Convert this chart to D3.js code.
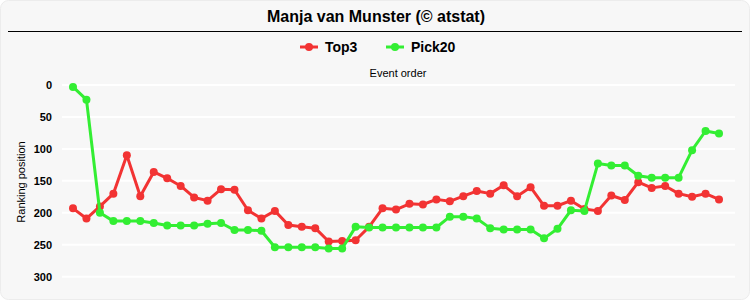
<!DOCTYPE html>
<html>
<head>
<meta charset="utf-8">
<script src="https://cdn.jsdelivr.net/npm/d3@7"></script>
<style>
  body { margin: 0; background: #fff; }
  svg { display: block; font-family: "Liberation Sans", Arial, sans-serif; }
</style>
</head>
<body>
<div id="chart"></div>
<script>
// Event order (x) and ranking positions for the two series
const events = d3.range(1, 50);
const top3 = [193, 209, 190, 170, 110, 174, 136, 146, 158, 176, 181, 163, 164, 196, 209, 197, 219, 222, 224,
    245, 244, 243, 222, 193, 195, 186, 187, 179, 182, 174, 166, 170, 157, 174, 160, 189, 189, 181, 194, 197,
    173, 180, 152, 161, 158, 170, 175, 170, 179];
const pick20 = [3, 23, 200, 213, 213, 213, 216, 220, 220, 220, 217, 216, 227, 227, 228, 254, 254, 254, 254,
    256, 256, 222, 223, 223, 223, 223, 223, 223, 206, 206, 209, 224, 226, 226, 226, 240, 225, 196, 197, 123,
    126, 126, 142, 145, 145, 145, 102, 72, 76];
const yTicks = [0, 50, 100, 150, 200, 250, 300];

const seriesList = [
    { name: "Top3", values: top3, color: "#f23333" },
    { name: "Pick20", values: pick20, color: "#33ee33" }
];

const width = 750, height = 300;

const svg = d3.select("#chart").append("svg")
    .attr("width", width)
    .attr("height", height);

// panel background
svg.append("rect")
    .attr("x", 0.5).attr("y", 0.5)
    .attr("width", width - 1).attr("height", height - 1)
    .attr("rx", 8)
    .style("fill", "#f7f7f7")
    .style("stroke", "#ececec");

// title + rule
svg.append("text")
    .attr("x", 376).attr("y", 22)
    .attr("text-anchor", "middle")
    .style("font-size", "16px")
    .style("font-weight", "bold")
    .text("Manja van Munster (© atstat)");

svg.append("line")
    .attr("x1", 8).attr("x2", 742)
    .attr("y1", 31.5).attr("y2", 31.5)
    .style("stroke", "#000")
    .style("stroke-width", 1.2);

const x = d3.scaleLinear().domain([1, 49]).range([73, 719]);
const y = d3.scaleLinear().domain([0, 300]).range([85, 276.7]);

// horizontal gridlines
svg.append("g")
    .selectAll("line")
    .data(yTicks)
    .enter().append("line")
    .attr("x1", 62).attr("x2", 735)
    .attr("y1", d => y(d)).attr("y2", d => y(d))
    .style("stroke", "#ffffff")
    .style("stroke-width", 2);

// y axis labels
const yAxis = d3.axisLeft(y).tickValues(yTicks).tickSize(0).tickPadding(0);
const yAxisG = svg.append("g")
    .attr("transform", "translate(52,0)")
    .call(yAxis);
yAxisG.select(".domain").remove();
yAxisG.selectAll("text")
    .style("font-size", "11px")
    .style("font-weight", "bold")
    .style("font-family", "'Liberation Sans', Arial, sans-serif")
    .style("fill", "#000");

svg.append("text")
    .attr("transform", "translate(25,182) rotate(-90)")
    .attr("text-anchor", "middle")
    .style("font-size", "11px")
    .text("Ranking position");

svg.append("text")
    .attr("x", 398).attr("y", 77)
    .attr("text-anchor", "middle")
    .style("font-size", "11px")
    .text("Event order");

// series lines + dots
const line = d3.line()
    .x((d, i) => x(events[i]))
    .y(d => y(d));

seriesList.forEach(s => {
    svg.append("path")
        .datum(s.values)
        .attr("d", line)
        .style("fill", "none")
        .style("stroke", s.color)
        .style("stroke-width", 3)
        .style("stroke-linejoin", "round");

    svg.append("g")
        .selectAll("circle")
        .data(s.values)
        .enter().append("circle")
        .attr("cx", (d, i) => x(events[i]))
        .attr("cy", d => y(d))
        .attr("r", 4)
        .style("fill", s.color);
});

// legend
const legendPos = [300, 386];
seriesList.forEach((s, i) => {
    const g = svg.append("g").attr("transform", `translate(${legendPos[i]},47)`);
    g.append("line")
        .attr("x1", 0).attr("x2", 18)
        .style("stroke", s.color)
        .style("stroke-width", 3);
    g.append("circle")
        .attr("cx", 9).attr("r", 4)
        .style("fill", s.color);
    g.append("text")
        .attr("x", 25).attr("y", 5)
        .style("font-size", "14px")
        .style("font-weight", "bold")
        .text(s.name);
});
</script>
</body>
</html>
